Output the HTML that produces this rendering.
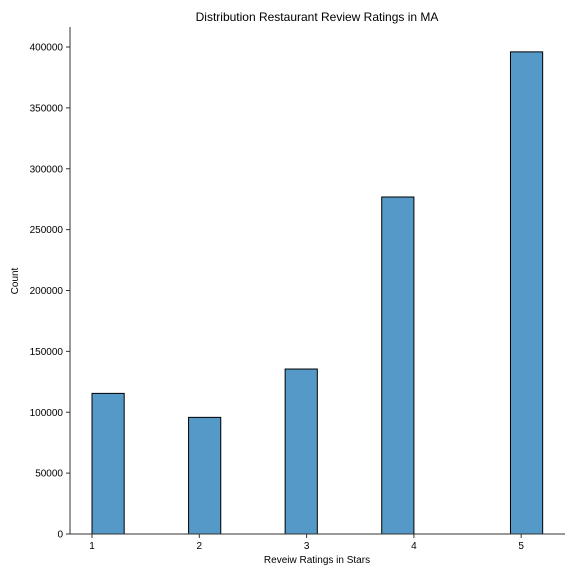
<!DOCTYPE html>
<html><head><meta charset="utf-8"><style>
body{margin:0;background:#fff;}
svg text{font-family:"Liberation Sans","DejaVu Sans",sans-serif;fill:#000;}
</style></head><body>
<svg id="chart" width="576" height="576" xmlns="http://www.w3.org/2000/svg">
<text x="317" y="21" font-size="12" text-anchor="middle">Distribution Restaurant Review Ratings in MA</text>
<text x="317" y="563" font-size="10" text-anchor="middle">Reveiw Ratings in Stars</text>
<text x="0" y="0" font-size="10" text-anchor="middle" transform="translate(18,281) rotate(-90)">Count</text>
<g id="bars"></g>
<g id="yticks"></g>
<g id="xticks"></g>
<line x1="70" y1="27" x2="70" y2="534" stroke="#333" stroke-width="1"/>
<line x1="70" y1="534" x2="565" y2="534" stroke="#333" stroke-width="1"/>
</svg>
<script>
const binStarts = [1.0, 1.9, 2.8, 3.7, 4.9];
const counts = [115500, 95800, 135500, 276800, 396000];
const binWidth = 0.3;
const yTickValues = [0, 50000, 100000, 150000, 200000, 250000, 300000, 350000, 400000];
const xTickValues = [1, 2, 3, 4, 5];

const NS = "http://www.w3.org/2000/svg";
function xScale(v){ return 92 + (v - 1) * 107.3; }
function yScale(v){ return 534 - v * 487 / 400000; }

const barsG = document.getElementById('bars');
binStarts.forEach((s, i) => {
  const r = document.createElementNS(NS, 'rect');
  const x0 = xScale(s), x1 = xScale(s + binWidth), y = yScale(counts[i]);
  r.setAttribute('x', x0); r.setAttribute('y', y);
  r.setAttribute('width', x1 - x0); r.setAttribute('height', 534 - y);
  r.setAttribute('fill', '#5499c7'); r.setAttribute('stroke', '#000'); r.setAttribute('stroke-width', '1');
  
  
  barsG.appendChild(r);
});

const yG = document.getElementById('yticks');
yTickValues.forEach(v => {
  const y = yScale(v);
  const l = document.createElementNS(NS, 'line');
  l.setAttribute('x1', 66); l.setAttribute('x2', 70); l.setAttribute('y1', y); l.setAttribute('y2', y);
  l.setAttribute('stroke', '#333');
  
  
  yG.appendChild(l);
  const t = document.createElementNS(NS, 'text');
  t.setAttribute('x', 63); t.setAttribute('y', y + 3.5); t.setAttribute('font-size', '10'); t.setAttribute('text-anchor', 'end');
  t.textContent = String(v);
  
  
  yG.appendChild(t);
});

const xG = document.getElementById('xticks');
xTickValues.forEach(v => {
  const x = xScale(v);
  const l = document.createElementNS(NS, 'line');
  l.setAttribute('x1', x); l.setAttribute('x2', x); l.setAttribute('y1', 534); l.setAttribute('y2', 538);
  l.setAttribute('stroke', '#333');
  
  
  xG.appendChild(l);
  const t = document.createElementNS(NS, 'text');
  t.setAttribute('x', x); t.setAttribute('y', 549); t.setAttribute('font-size', '10'); t.setAttribute('text-anchor', 'middle');
  t.textContent = String(v);
  
  
  xG.appendChild(t);
});
</script>
</body></html>
